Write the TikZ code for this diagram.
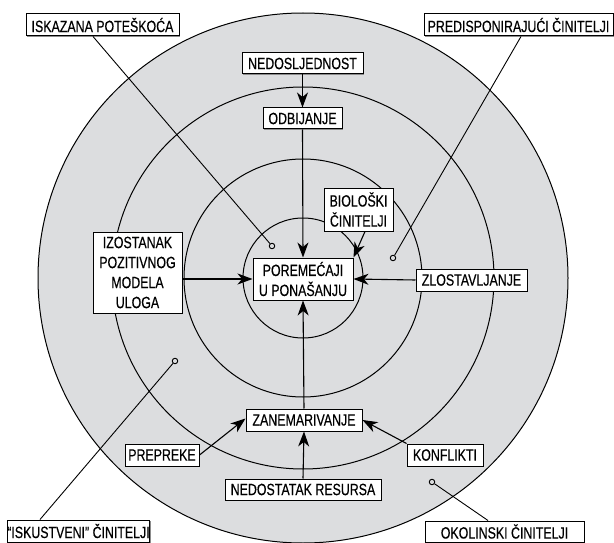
\documentclass[tikz,border=0pt]{standalone}
\usepackage{fontspec}
\setmainfont[FakeStretch=0.76,FakeBold=0.4]{Liberation Sans}
\usetikzlibrary{arrows.meta,shadows}
\definecolor{bg}{RGB}{220,221,223}
\begin{document}
\begin{tikzpicture}[x=1pt,y=-1pt,
  box/.style={draw, line width=1pt, fill=white, inner sep=0pt,
    font=\fontsize{16.3}{20}\selectfont, align=center,
    drop shadow={shadow xshift=1pt,shadow yshift=-1pt,fill=black!45,opacity=1}},
  arr/.style={line width=1.1pt, -{Stealth[length=15pt,width=11pt,inset=4.5pt]}},
  lead/.style={line width=0.9pt},
  ring/.style={line width=1pt},
  dotmark/.style={circle, draw, line width=0.9pt, inner sep=0pt, minimum size=5.5pt}
]
\useasboundingbox (0,0) rectangle (614,543);
\fill[white] (0,0) rectangle (614,543);
\coordinate (c) at (303,278);
\draw[ring, fill=bg] (c) circle[radius=265];
\draw[ring] (c) circle[radius=191];
\draw[ring] (c) circle[radius=119];
\draw[ring] (c) circle[radius=60];

% markers
\node[dotmark] (m1) at (272,246) {};
\node[dotmark] (m2) at (393,258) {};
\node[dotmark] (m3) at (175,361) {};
\node[dotmark] (m4) at (432,482) {};

% boxes
\node[box, minimum width=153, minimum height=22] (isk) at (102.5,25) {ISKAZANA POTEŠKOĆA};
\node[box, minimum width=189, minimum height=22] (pre) at (518.5,25) {PREDISPONIRAJUĆI ČINITELJI};
\node[box, minimum width=121, minimum height=21] (ned) at (302.5,63.5) {NEDOSLJEDNOST};
\node[box, minimum width=79, minimum height=21] (odb) at (302.5,118.5) {ODBIJANJE};
\node[box, minimum width=100, minimum height=42] (por) at (303,279) {POREMEĆAJI\\U PONAŠANJU};
\node[box, minimum width=69, minimum height=43] (bio) at (358.5,209.5) {BIOLOŠKI\\ČINITELJI};
\node[box, minimum width=111, minimum height=22] (zlo) at (471.5,280) {ZLOSTAVLJANJE};
\node[box, minimum width=89, minimum height=81] (izo) at (137.5,272.5) {IZOSTANAK\\POZITIVNOG\\MODELA\\ULOGA};
\node[box, minimum width=116, minimum height=22] (zan) at (304,420) {ZANEMARIVANJE};
\node[box, minimum width=74, minimum height=22] (prp) at (162,455) {PREPREKE};
\node[box, minimum width=76, minimum height=22] (kon) at (445,455) {KONFLIKTI};
\node[box, minimum width=156, minimum height=21] (nrs) at (303,489.5) {NEDOSTATAK RESURSA};
\node[box, minimum width=133, minimum height=22] (isv) at (78.5,531) {“ISKUSTVENI” ČINITELJI};
\node[box, minimum width=159, minimum height=21] (oko) at (504.5,531.5) {OKOLINSKI ČINITELJI};

% leader lines
\draw[lead] ([xshift=-9.5pt]isk.south) -- (m1);
\draw[lead] ([xshift=2.5pt]pre.south) -- (m2);
\draw[lead] ([xshift=-38.5pt]isv.north) -- (m3);
\draw[lead] ([xshift=-16.5pt]oko.north) -- (m4);

% arrows
\draw[arr] (ned.south) -- (odb.north);
\draw[arr] (odb.south) -- (por.north);
\draw[arr] ([xshift=6.5pt]bio.south) -- (por.north east);
\draw[arr] (zlo.west) -- (por.east);
\draw[arr] (izo.east |- por.west) -- (por.west);
\draw[arr] (zan.north) -- (por.south);
\draw[arr] (prp.east) -- ([yshift=1.5pt]zan.west);
\draw[arr] (kon.north west) -- (zan.east);
\draw[arr] (nrs.north) -- (zan.south);
\end{tikzpicture}
\end{document}
